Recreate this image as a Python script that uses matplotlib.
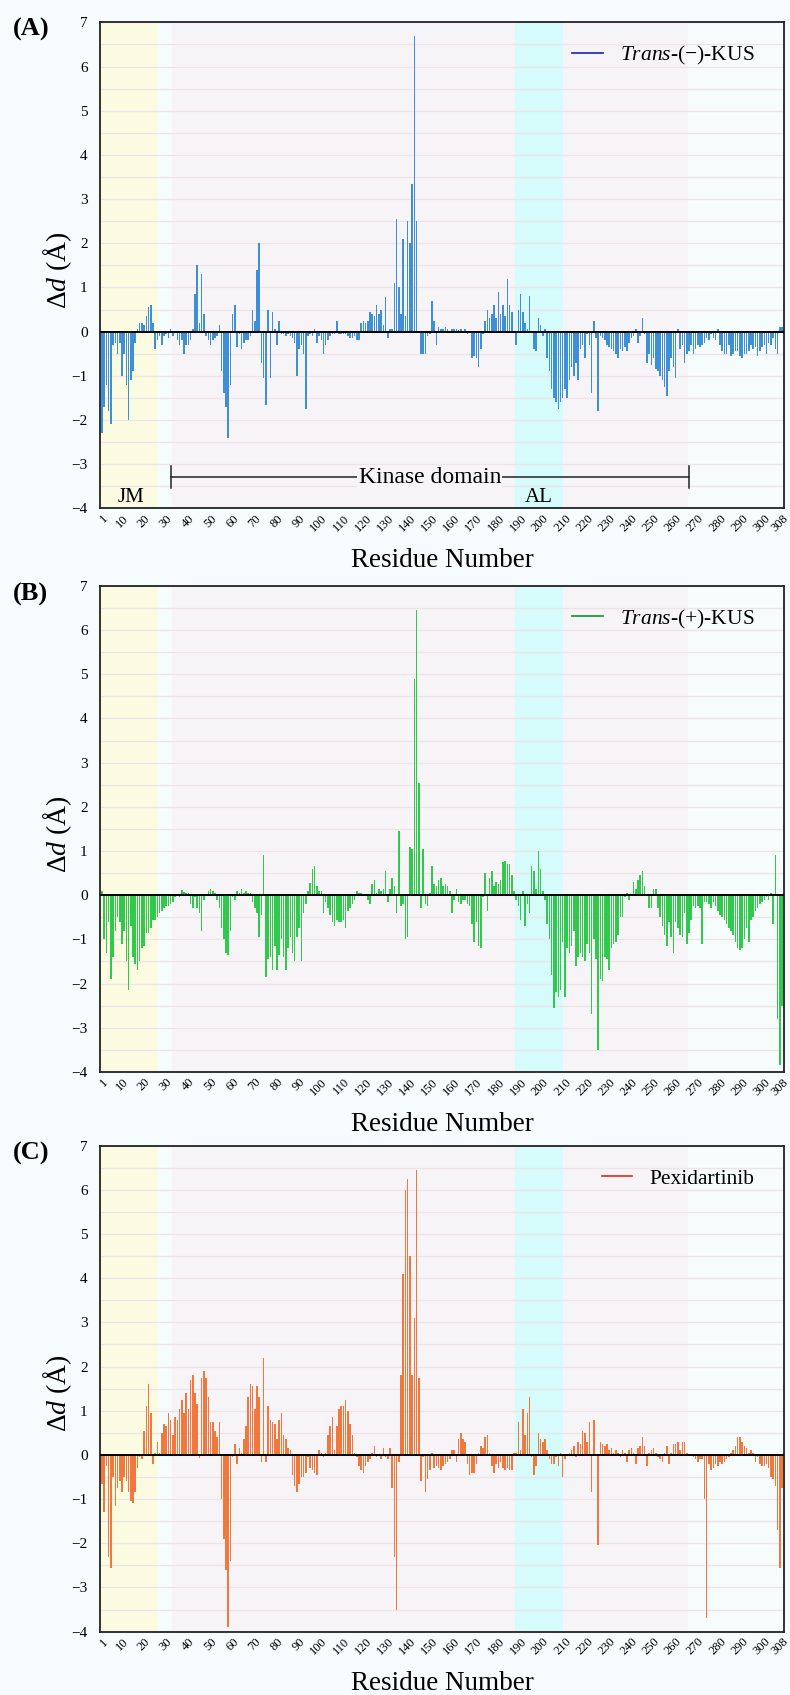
import numpy as np
import matplotlib.pyplot as plt
from matplotlib.lines import Line2D

plt.rcParams['font.family'] = ['Liberation Serif', 'DejaVu Serif']
plt.rcParams['mathtext.fontset'] = 'custom'
plt.rcParams['mathtext.rm'] = 'Liberation Serif'
plt.rcParams['mathtext.it'] = 'Liberation Serif:italic'

# residue numbers and delta-d values (A)
residues = np.arange(1, 309)

trans_minus = [
    -2.3, -1.7, -1.2, -1.8, -2.1, -0.3, -0.25, -0.5, -0.25, -1.0,
    -0.5, -1.2, -2.0, -1.1, -0.9, -0.25, 0.05, 0.2, 0.2, 0.15,
    0.35, 0.55, 0.6, 0.2, -0.4, -0.2, -0.1, -0.3, -0.1, -0.05,
    -0.15, 0.05, -0.1, -0.02, -0.2, -0.3, -0.2, -0.5, -0.3, -0.3,
    -0.2, 0.05, 0.85, 1.5, 0.2, 1.3, 0.4, -0.1, -0.2, -0.3,
    -0.2, -0.15, -0.1, 0.15, -0.9, -1.4, -1.7, -2.4, -1.2, 0.4,
    0.6, -0.35, -0.05, -0.4, -0.25, -0.2, -0.2, -0.1, 0.5, 0.25,
    1.4, 2.0, -0.7, -1.05, -1.65, 0.5, -1.05, 0.45, 0.05, -0.3,
    0.25, -0.05, -0.05, -0.1, -0.05, -0.1, -0.15, -0.25, -1.0, -0.4,
    -0.3, -0.5, -1.75, -0.1, -0.05, -0.1, 0.05, -0.25, -0.1, -0.2,
    -0.5, -0.3, -0.2, -0.1, -0.05, -0.05, 0.25, -0.05, -0.05, -0.05,
    -0.05, -0.1, -0.15, -0.15, -0.1, -0.2, -0.2, 0.2, 0.25, 0.2,
    0.25, 0.45, 0.4, 0.35, 0.6, 0.4, 0.5, 0.15, 0.78, -0.15,
    0.05, 0.05, 1.1, 2.55, 1.0, 0.4, 2.1, 0.35, 2.5, 2.0,
    3.35, 6.7, 2.5, 0.0, -0.5, -0.5, -0.5, -0.1, -0.05, 0.7,
    0.25, -0.3, 0.1, 0.05, 0.05, 0.1, 0.05, 0.02, 0.05, 0.05,
    0.05, 0.03, 0.05, 0.02, 0.05, -0.05, 0.0, -0.6, -0.55, -0.6,
    -0.8, -0.4, -0.05, 0.25, 0.5, 0.3, 0.4, 0.6, 0.3, 0.9,
    0.4, 0.6, 0.35, 1.2, 0.6, 0.45, 0.0, -0.3, 0.5, 0.85,
    0.45, 0.2, 0.05, 0.8, 0.0, -0.4, -0.45, 0.3, 0.15, -0.1,
    0.05, -0.6, -0.9, -1.3, -1.5, -1.6, -1.75, -1.6, -1.5, -1.3,
    -1.5, -1.1, -0.8, -1.0, -0.7, -1.1, -0.4, -0.3, -0.6, -0.05,
    -0.3, -1.4, 0.25, -0.15, -1.8, -0.1, -0.15, -0.2, -0.3, -0.35,
    -0.4, -0.45, -0.5, -0.6, -0.4, -0.45, -0.35, -0.45, -0.25, -0.15,
    -0.1, 0.05, -0.25, -0.1, 0.3, -0.05, -0.7, -0.5, -0.75, -0.6,
    -0.85, -0.9, -1.0, -1.1, -1.25, -1.45, -0.9, -0.6, -0.8, -1.05,
    0.05, -0.4, -0.3, -0.7, -0.5, -0.45, -0.3, -0.5, -0.4, -0.3,
    -0.35, -0.3, -0.25, -0.15, -0.2, -0.05, -0.15, -0.2, 0.05, -0.3,
    -0.45, -0.5, -0.5, -0.3, -0.55, -0.5, -0.45, -0.45, -0.55, -0.6,
    -0.5, -0.5, -0.45, -0.3, -0.4, -0.35, -0.55, -0.45, -0.35, -0.3,
    -0.5, -0.25, -0.3, -0.15, -0.4, -0.5, 0.1, 0.1,
]

# (B)
trans_plus = [
    0.1, -1.0, -1.3, -0.6, -1.9, -1.4, -0.8, -0.5, -0.6, -1.1,
    -0.8, -1.5, -2.15, -0.7, -1.4, -1.55, -1.7, -1.5, -1.2, -1.15,
    -0.85, -0.85, -0.75, -0.55, -0.55, -0.5, -0.4, -0.35, -0.3, -0.25,
    -0.25, -0.2, -0.15, -0.05, 0.0, -0.05, 0.12, 0.08, 0.05, 0.05,
    -0.2, -0.3, -0.05, -0.3, -0.4, -0.8, -0.1, 0.0, 0.1, 0.15,
    0.1, 0.05, -0.1, -0.3, -0.75, -1.0, -1.3, -1.35, -0.8, -0.05,
    -0.1, 0.1, 0.05, 0.15, 0.05, 0.1, 0.05, 0.05, -0.15, -0.3,
    -0.4, -0.95, -0.45, 0.9, -1.85, -1.45, -1.4, -1.7, -1.15, -1.7,
    -1.35, -1.0, -1.4, -1.7, -1.2, -0.95, -1.3, -1.5, -0.95, -0.75,
    -1.5, -0.4, -0.2, 0.1, 0.28, 0.6, 0.65, 0.2, 0.1, 0.1,
    -0.4, -0.15, -0.3, -0.45, -0.6, -0.7, -0.55, -0.6, -0.6, -0.55,
    -0.75, -0.35, -0.3, -0.2, -0.1, 0.1, 0.05, 0.05, 0.02, 0.0,
    -0.1, -0.2, 0.25, 0.35, 0.05, 0.15, 0.1, 0.15, 0.55, -0.15,
    0.15, 0.4, 0.2, -0.4, 1.45, -0.25, -0.2, -1.0, -0.95, 1.1,
    1.05, 4.9, 6.45, 2.55, -0.3, 1.05, -0.2, -0.25, 0.05, 0.65,
    0.25, 0.2, 0.35, 0.4, 0.2, 0.25, 0.2, 0.1, -0.4, -0.1,
    0.15, -0.15, -0.2, -0.1, -0.1, -0.2, -0.25, -0.65, -1.05, -0.6,
    -1.15, -1.2, -0.05, 0.5, -0.35, 0.4, 0.55, 0.2, 0.3, 0.25,
    0.35, 0.75, 0.78, 0.7, 0.7, 0.45, 0.1, -0.1, -0.25, -0.55,
    0.1, -0.7, -0.2, -0.4, 0.65, 0.55, 0.15, 1.0, 0.6, 0.1,
    -0.1, -0.65, -1.0, -1.8, -2.55, -2.2, -2.3, -2.15, -1.05, -2.3,
    -1.2, -1.3, -1.15, -0.8, -1.6, -1.4, -1.3, -1.4, -1.5, -1.1,
    -1.3, -2.7, -1.0, -1.45, -3.5, -1.9, -1.95, -1.4, -1.45, -1.7,
    -1.2, -1.1, -1.05, -0.9, -0.5, -0.5, -0.05, 0.05, -0.1, 0.02,
    0.3, 0.15, 0.35, 0.45, 0.55, 0.2, 0.0, -0.3, -0.3, 0.15,
    0.15, -0.3, -0.5, -0.7, -0.9, -1.15, -0.6, -0.95, -1.3, -0.6,
    -0.75, -0.9, -0.95, -0.4, -1.1, -0.85, -0.55, -0.25, -0.3, -0.25,
    -0.3, -1.1, -0.15, -0.15, -0.2, -0.3, -0.15, -0.25, -0.35, -0.45,
    -0.5, -0.55, -0.65, -0.75, -0.8, -0.9, -1.05, -1.2, -1.25, -1.2,
    -1.0, -0.75, -1.05, -0.55, -0.5, -0.35, -0.3, -0.2, -0.15, -0.1,
    -0.05, -0.1, 0.05, -0.65, 0.92, -2.8, -3.85, -2.5,
]

# (C)
pexidartinib = [
    -0.65, -1.3, -0.25, -2.3, -2.55, -0.5, -1.15, -0.75, -0.6, -0.85,
    -0.5, -0.6, -0.85, -1.05, -1.1, -0.85, -0.3, -0.05, -0.1, 0.55,
    1.1, 1.6, 0.95, -0.2, 0.05, 0.3, 0.05, 0.5, 0.7, 0.65,
    0.95, 0.8, 0.45, 0.85, 0.8, 1.05, 1.25, 0.95, 1.4, 1.05,
    1.7, 1.8, 1.4, 1.15, -0.08, 1.75, 1.9, 1.75, 1.3, 0.75,
    0.75, 0.55, 0.4, 0.75, -1.0, -1.9, -2.6, -3.9, -2.4, -0.05,
    0.25, -0.2, 0.15, 0.05, 0.35, 0.65, 1.3, 1.6, 1.55, 1.05,
    1.55, 1.3, -0.15, 2.2, -0.15, 1.1, 0.8, 0.75, 0.7, 0.35,
    0.8, 0.95, 0.45, 0.35, 0.15, 0.1, -0.45, -0.7, -0.85, -0.65,
    -0.5, -0.5, -0.4, -0.05, -0.3, -0.35, -0.4, -0.45, 0.1, 0.05,
    -0.05, 0.05, 0.45, 0.65, 0.85, 0.1, 0.65, 1.05, 1.1, 1.1,
    1.25, 1.0, 0.7, 0.45, 0.05, -0.05, -0.25, -0.35, -0.4, -0.25,
    -0.15, -0.1, 0.05, 0.2, -0.05, 0.0, -0.1, 0.15, -0.05, -0.1,
    0.15, -0.75, -2.3, -3.5, -0.15, 1.8, 4.1, 6.0, 6.25, 4.5,
    1.8, 3.1, 6.45, 1.75, -0.6, -0.05, -0.85, -0.55, -0.35, 0.05,
    -0.3, -0.25, -0.3, -0.35, -0.25, -0.2, -0.15, -0.1, 0.1, 0.1,
    -0.15, 0.35, 0.5, 0.35, 0.3, -0.2, -0.45, -0.4, -0.4, -0.2,
    0.05, 0.2, 0.15, 0.4, 0.45, 0.05, -0.25, -0.4, -0.2, -0.3,
    -0.15, -0.3, -0.35, -0.3, -0.35, -0.35, 0.05, 0.05, 0.75, 0.1,
    1.05, 0.45, 0.95, 1.3, -0.05, -0.45, -0.25, 0.5, 0.35, 0.3,
    0.35, 0.1, -0.1, -0.2, -0.2, -0.05, -0.25, 0.05, -0.5, -0.1,
    0.02, 0.05, 0.1, 0.2, -0.05, 0.3, 0.25, 0.55, 0.5, 0.3,
    0.75, -0.85, 0.8, 0.0, -2.05, 0.3, 0.25, 0.2, 0.25, 0.1,
    0.15, 0.05, 0.1, 0.05, -0.05, 0.1, 0.05, -0.15, 0.1, 0.15,
    0.05, -0.2, 0.15, 0.2, 0.4, 0.2, -0.25, 0.05, 0.1, 0.15,
    0.05, -0.05, -0.1, -0.15, 0.05, 0.2, -0.2, 0.05, 0.25, 0.25,
    0.3, 0.1, 0.3, 0.3, 0.05, 0.02, -0.02, -0.05, -0.1, -0.15,
    -0.1, -0.1, -1.0, -3.7, -0.2, -0.35, -0.3, -0.2, -0.25, -0.15,
    -0.2, -0.15, -0.1, -0.05, 0.05, 0.1, 0.2, 0.4, 0.4, 0.3,
    0.2, 0.15, 0.05, 0.1, 0.05, -0.15, -0.05, -0.2, -0.25, -0.25,
    -0.2, -0.3, -0.5, -0.55, -0.7, -1.7, -2.55, -0.75,
]

assert len(trans_minus) == 308, len(trans_minus)
assert len(trans_plus) == 308, len(trans_plus)
assert len(pexidartinib) == 308, len(pexidartinib)

panel_tags = ['(A)', '(B)', '(C)']
legend_labels = [r'$\mathit{Trans}$-(−)-KUS', r'$\mathit{Trans}$-(+)-KUS', 'Pexidartinib']
bar_colors = ['#3f8fd6', '#2fc94b', '#f2773c']
line_colors = ['#2635b8', '#1e9a3c', '#e8352b']
xtick_pos = [1] + list(range(10, 301, 10)) + [308]

fig = plt.figure(figsize=(7.9, 16.95), dpi=100)
fig.patch.set_facecolor('#f6fbfd')

bottoms = [0.7001, 0.3676, 0.0374]
tag_y = [1 - 29 / 1695, 1 - 594 / 1695, 1 - 1153 / 1695]
series = [trans_minus, trans_plus, pexidartinib]

for k in range(3):
    ax = fig.add_axes([0.1266, bottoms[k], 0.8658, 0.2867])
    ax.set_facecolor('#f6fbfc')
    ax.axvspan(0, 26.4, color='#fafbe1', zorder=0, lw=0)
    ax.axvspan(32.5, 265.5, color='#f7f4f8', zorder=0, lw=0)
    ax.axvspan(187.3, 209.1, color='#d6fbfb', zorder=0, lw=0)
    for yy in np.arange(-4, 7.01, 0.5):
        ax.axhline(yy, color='#eee3e6', lw=0.9, zorder=0.5)

    ax.bar(residues, series[k], width=0.7, color=bar_colors[k], zorder=2)
    ax.axhline(0, color='black', lw=1.4, zorder=3)

    ax.set_xlim(0.1, 308.9)
    ax.set_ylim(-4, 7)
    ax.set_yticks(range(-4, 8))
    ax.set_xticks(xtick_pos)
    ax.set_xticklabels([str(v) for v in xtick_pos], rotation=45, ha='right',
                       rotation_mode='anchor', fontsize=9)
    ax.tick_params(axis='y', length=0, pad=9, labelsize=11)
    ax.tick_params(axis='x', length=0, pad=3)
    for sp in ax.spines.values():
        sp.set_linewidth(1.3)
        sp.set_color('#222222')

    ax.set_xlabel('Residue Number', fontsize=19.5, labelpad=10)
    ax.set_ylabel('Δ$\\mathit{d}$ (Å)', fontsize=20)
    ax.yaxis.set_label_coords(-0.038, 0.49)

    ax.legend(handles=[Line2D([0], [0], color=line_colors[k], lw=1.3)],
              labels=[legend_labels[k]], loc='center right',
              bbox_to_anchor=(0.985, 0.932), frameon=False, fontsize=15.5,
              handlelength=1.4, handletextpad=0.8)

    fig.text(0.016, tag_y[k], panel_tags[k], fontsize=19, fontweight='bold',
             va='center', ha='left')

    if k == 0:
        ax.plot([32, 266], [-3.3, -3.3], color='#222222', lw=1.1, zorder=4)
        ax.plot([32, 32], [-3.05, -3.55], color='#222222', lw=1.1, zorder=4)
        ax.plot([266, 266], [-3.05, -3.55], color='#222222', lw=1.1, zorder=4)
        ax.text(149, -3.3, 'Kinase domain', ha='center', va='center', fontsize=17,
                zorder=5, bbox=dict(facecolor='#f7f4f8', edgecolor='none', pad=1))
        ax.text(14, -3.75, 'JM', ha='center', va='center', fontsize=15, zorder=5)
        ax.text(198.2, -3.75, 'AL', ha='center', va='center', fontsize=15, zorder=5)

fig.savefig('out.png', dpi=100, facecolor=fig.get_facecolor())
